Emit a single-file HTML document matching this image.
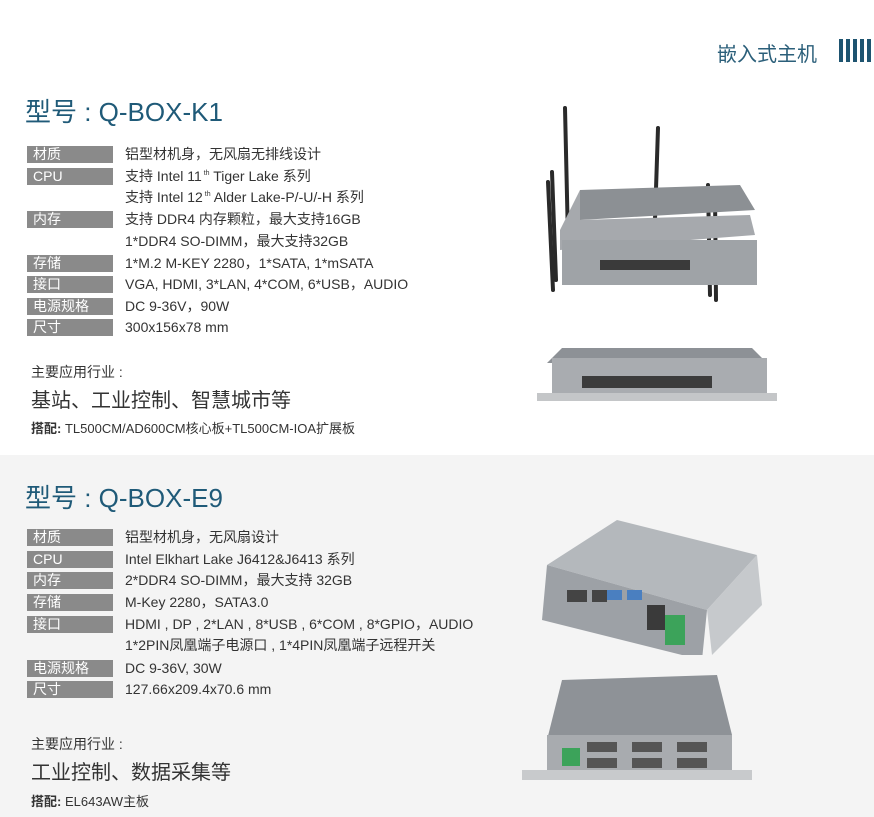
<!DOCTYPE html>
<html><head><meta charset="utf-8"><style>
body{margin:0;width:874px;height:817px;position:relative;background:#fff;font-family:"Liberation Sans","Noto Sans CJK SC",sans-serif;overflow:hidden;color:#333}
.a{position:absolute;white-space:nowrap}
.lb{position:absolute;left:27px;width:86px;height:17px;background:#8a8a8a;color:#fff;font-size:14px;line-height:17px;padding-left:6px;box-sizing:border-box}
.tx{position:absolute;left:125px;font-size:14px;line-height:17px;color:#333;white-space:nowrap}
.ttl{position:absolute;left:25px;font-size:26px;color:#1f5a78;white-space:nowrap}
sup{font-size:7px;line-height:0;vertical-align:6px}
</style></head><body>
<div class="a" style="left:0;top:455px;width:874px;height:362px;background:#f4f4f4"></div>
<div class="a" style="left:717px;top:38px;font-size:20px;color:#2b5f7a">嵌入式主机</div>
<div class="a" style="left:839px;top:39px;width:35px;height:23px;background:repeating-linear-gradient(90deg,#1e5470 0 4px,#fff 4px 7px)"></div>

<div class="ttl" style="top:92px">型号 : Q-BOX-K1</div>
<div class="lb" style="top:146px">材质</div><div class="tx" style="top:146px">铝型材机身，无风扇无排线设计</div>
<div class="lb" style="top:168px">CPU</div><div class="tx" style="top:168px">支持 Intel 11<sup> th</sup> Tiger Lake 系列</div>
<div class="tx" style="top:189px">支持 Intel 12<sup> th</sup> Alder Lake-P/-U/-H 系列</div>
<div class="lb" style="top:211px">内存</div><div class="tx" style="top:211px">支持 DDR4 内存颗粒，最大支持16GB</div>
<div class="tx" style="top:233px">1*DDR4 SO-DIMM，最大支持32GB</div>
<div class="lb" style="top:255px">存储</div><div class="tx" style="top:255px">1*M.2 M-KEY 2280，1*SATA, 1*mSATA</div>
<div class="lb" style="top:276px">接口</div><div class="tx" style="top:276px">VGA, HDMI, 3*LAN, 4*COM, 6*USB，AUDIO</div>
<div class="lb" style="top:298px">电源规格</div><div class="tx" style="top:298px">DC 9-36V，90W</div>
<div class="lb" style="top:319px">尺寸</div><div class="tx" style="top:319px">300x156x78 mm</div>
<div class="a" style="left:31px;top:362px;font-size:14px;color:#333">主要应用行业 :</div>
<div class="a" style="left:31px;top:384px;font-size:20px;color:#333">基站、工业控制、智慧城市等</div>
<div class="a" style="left:31px;top:418px;font-size:13px;color:#333"><b>搭配:</b> TL500CM/AD600CM核心板+TL500CM-IOA扩展板</div>

<svg class="a" style="left:540px;top:100px" width="240" height="220">
<g stroke="#2a2a2a" stroke-width="4" stroke-linecap="round">
<line x1="25" y1="8" x2="28" y2="140"/><line x1="118" y1="28" x2="114" y2="150"/>
<line x1="12" y1="72" x2="16" y2="180"/><line x1="8" y1="82" x2="13" y2="190"/>
<line x1="168" y1="85" x2="170" y2="195"/><line x1="175" y1="95" x2="176" y2="200"/>
</g>
<polygon points="40,90 200,85 215,110 40,120" fill="#8c9094"/>
<polygon points="20,130 40,90 40,120 210,115 215,135 20,150" fill="#a6a9ad"/>
<rect x="22" y="140" width="195" height="45" fill="#9fa3a7"/>
<rect x="60" y="160" width="90" height="10" fill="#3a3a3a"/>
</svg>
<svg class="a" style="left:532px;top:338px" width="250" height="70">
<polygon points="30,10 220,10 235,25 15,25" fill="#8d9196"/>
<rect x="20" y="20" width="215" height="40" fill="#a9acb0"/>
<rect x="5" y="55" width="240" height="8" fill="#c4c6c8"/>
<rect x="50" y="38" width="130" height="12" fill="#3c3c3c"/>
</svg>

<div class="ttl" style="top:478px">型号 : Q-BOX-E9</div>
<div class="lb" style="top:529px">材质</div><div class="tx" style="top:529px">铝型材机身，无风扇设计</div>
<div class="lb" style="top:551px">CPU</div><div class="tx" style="top:551px">Intel Elkhart Lake J6412&amp;J6413 系列</div>
<div class="lb" style="top:572px">内存</div><div class="tx" style="top:572px">2*DDR4 SO-DIMM，最大支持 32GB</div>
<div class="lb" style="top:594px">存储</div><div class="tx" style="top:594px">M-Key 2280，SATA3.0</div>
<div class="lb" style="top:616px">接口</div><div class="tx" style="top:616px">HDMI , DP , 2*LAN , 8*USB , 6*COM , 8*GPIO，AUDIO</div>
<div class="tx" style="top:637px">1*2PIN凤凰端子电源口 , 1*4PIN凤凰端子远程开关</div>
<div class="lb" style="top:660px">电源规格</div><div class="tx" style="top:660px">DC 9-36V, 30W</div>
<div class="lb" style="top:681px">尺寸</div><div class="tx" style="top:681px">127.66x209.4x70.6 mm</div>
<div class="a" style="left:31px;top:734px;font-size:14px;color:#333">主要应用行业 :</div>
<div class="a" style="left:31px;top:756px;font-size:20px;color:#333">工业控制、数据采集等</div>
<div class="a" style="left:31px;top:791px;font-size:13px;color:#333"><b>搭配:</b> EL643AW主板</div>

<svg class="a" style="left:517px;top:515px" width="245" height="140">
<polygon points="30,50 100,5 240,40 190,95" fill="#b4b8bc"/>
<polygon points="30,50 190,95 185,145 25,105" fill="#9da1a6"/>
<polygon points="190,95 240,40 245,90 195,140" fill="#c6c9cc"/>
<rect x="50" y="75" width="20" height="12" fill="#444"/><rect x="75" y="75" width="15" height="12" fill="#444"/>
<rect x="90" y="75" width="15" height="10" fill="#4a7fc0"/><rect x="110" y="75" width="15" height="10" fill="#4a7fc0"/>
<rect x="130" y="90" width="18" height="25" fill="#3a3a3a"/><rect x="148" y="100" width="20" height="30" fill="#3ca35a"/>
</svg>
<svg class="a" style="left:517px;top:670px" width="235" height="115">
<polygon points="45,10 200,5 215,65 30,70" fill="#8e9297"/>
<rect x="30" y="65" width="185" height="40" fill="#a8abaf"/>
<rect x="5" y="100" width="230" height="10" fill="#c8cacc"/>
<rect x="45" y="78" width="18" height="18" fill="#3ca35a"/>
<g fill="#555"><rect x="70" y="72" width="30" height="10"/><rect x="115" y="72" width="30" height="10"/><rect x="160" y="72" width="30" height="10"/>
<rect x="70" y="88" width="30" height="10"/><rect x="115" y="88" width="30" height="10"/><rect x="160" y="88" width="30" height="10"/></g>
</svg>
</body></html>
